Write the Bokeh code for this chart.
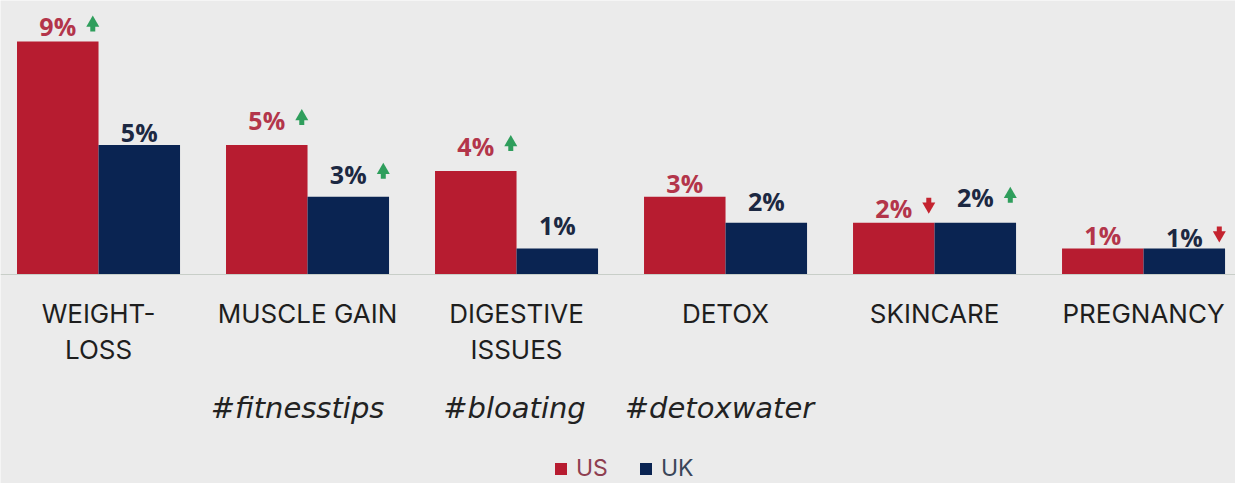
from bokeh.plotting import figure
from bokeh.models import Range1d, ColumnDataSource, Span, Legend, LegendItem
from bokeh.core.properties import value
from bokeh.embed import file_html
from bokeh.resources import INLINE

# ---- data ----
categories = ["WEIGHT-\nLOSS", "MUSCLE GAIN", "DIGESTIVE\nISSUES", "DETOX", "SKINCARE", "PREGNANCY"]
us_values = [9, 5, 4, 3, 2, 1]
uk_values = [5, 3, 1, 2, 2, 1]
us_trend = ["up", "up", "up", "", "down", ""]
uk_trend = ["", "up", "", "", "up", "down"]
hashtags = ["", "#fitnesstips", "#bloating", "#detoxwater", "", ""]

# ---- layout / style ----
W, H = 1235, 483
X0, X1 = -0.469, 5.440
Y0, Y1 = -8.07, 10.58
PX_X = (X1 - X0) / W
PX_Y = (Y1 - Y0) / H
BAR_W = 0.39
US_COLOR = "#b71c30"
UK_COLOR = "#0a2452"
US_TEXT = "#b3354a"
UK_TEXT = "#1c2842"
UP_COLOR = "#2f9e5c"
DOWN_COLOR = "#c4232f"
BG = "#ebebeb"
VAL_FS, CAT_FS, TAG_FS = 25, 26, 29
us_label_gap = [7, 17, 17, 6, 6, 5]
uk_label_gap = [5, 15, 15, 13, 17, 3]
tag_dx = [0, -10, -2, -6, 0, 0]


def fix(fs):
    # empirical correction of the rendered baseline
    return -0.33 * fs


idx = list(range(len(categories)))
us_x = [i - BAR_W / 2 for i in idx]
uk_x = [i + BAR_W / 2 for i in idx]

p = figure(width=W, height=H, x_range=Range1d(X0, X1), y_range=Range1d(Y0, Y1),
           output_backend="svg", toolbar_location=None, min_border=0,
           x_axis_location=None, y_axis_location=None,
           background_fill_color=BG, border_fill_color=BG, outline_line_color=None)
p.grid.visible = False

us_src = ColumnDataSource(dict(x=us_x, top=us_values, label=[f"{v}%" for v in us_values],
                               yoff=[-g + fix(VAL_FS) for g in us_label_gap]))
uk_src = ColumnDataSource(dict(x=uk_x, top=uk_values, label=[f"{v}%" for v in uk_values],
                               yoff=[-g + fix(VAL_FS) for g in uk_label_gap]))

us_r = p.vbar(x="x", top="top", bottom=0, width=BAR_W, source=us_src,
              fill_color=US_COLOR, line_color=None)
uk_r = p.vbar(x="x", top="top", bottom=0, width=BAR_W, source=uk_src,
              fill_color=UK_COLOR, line_color=None)

p.add_layout(Span(location=0, dimension="width", line_color="#c8cec8", line_width=1))

for src, col in ((us_src, US_TEXT), (uk_src, UK_TEXT)):
    p.text(x="x", y="top", text="label", y_offset="yoff", source=src,
           text_align="center", text_baseline="alphabetic",
           text_font=value("Open Sans"), text_font_style="bold",
           text_font_size=f"{VAL_FS}px", text_color=col)

# trend arrows
heads_up = dict(x=[], y=[])
heads_dn = dict(x=[], y=[])
shafts_up = dict(x=[], y=[])
shafts_dn = dict(x=[], y=[])
for xs, vals, gaps, trends in ((us_x, us_values, us_label_gap, us_trend),
                               (uk_x, uk_values, uk_label_gap, uk_trend)):
    for x, v, g, t in zip(xs, vals, gaps, trends):
        if not t:
            continue
        ax = x + 35 * PX_X
        top = v + (g + 19) * PX_Y
        if t == "up":
            heads_up["x"].append(ax); heads_up["y"].append(top - 7.5 * PX_Y)
            shafts_up["x"].append(ax); shafts_up["y"].append(top - 12.5 * PX_Y)
        else:
            bot = top - 16 * PX_Y
            heads_dn["x"].append(ax); heads_dn["y"].append(bot + 7.5 * PX_Y)
            shafts_dn["x"].append(ax); shafts_dn["y"].append(top - 3.5 * PX_Y)

p.scatter(x="x", y="y", source=ColumnDataSource(heads_up), marker="triangle", size=13,
          fill_color=UP_COLOR, line_color=None)
p.rect(x="x", y="y", source=ColumnDataSource(shafts_up), width=5, height=7,
       width_units="screen", height_units="screen", fill_color=UP_COLOR, line_color=None)
p.scatter(x="x", y="y", source=ColumnDataSource(heads_dn), marker="inverted_triangle", size=13,
          fill_color=DOWN_COLOR, line_color=None)
p.rect(x="x", y="y", source=ColumnDataSource(shafts_dn), width=5, height=7,
       width_units="screen", height_units="screen", fill_color=DOWN_COLOR, line_color=None)

# category labels (two lines)
line1 = [c.split("\n")[0] for c in categories]
line2 = [c.split("\n")[1] if "\n" in c else "" for c in categories]
for lines, off in ((line1, 48), (line2, 84)):
    p.text(x=idx, y=[0] * len(idx), text=lines, y_offset=off + fix(CAT_FS),
           text_align="center", text_baseline="alphabetic",
           text_font=value("Inter"), text_font_size=f"{CAT_FS}px", text_color="#1e1e1e")

# hashtags
p.text(x=idx, y=[0] * len(idx), text=hashtags, x_offset=tag_dx, y_offset=143 + fix(TAG_FS),
       text_align="center", text_baseline="alphabetic",
       text_font=value("DejaVu Sans"), text_font_style="italic",
       text_font_size=f"{TAG_FS}px", text_color="#222222")

# legend
for name, r, loc, col in (("US", us_r, (553, 1), "#8e3e50"), ("UK", uk_r, (638, 1), "#3b4659")):
    leg = Legend(items=[LegendItem(label=name, renderers=[r])], location=loc,
                 orientation="horizontal", background_fill_alpha=0, border_line_alpha=0,
                 padding=0, margin=0, glyph_width=15, glyph_height=15, label_standoff=8,
                 label_height=15, label_text_font="Inter", label_text_font_size="23px",
                 label_text_color=col, label_text_baseline="middle")
    p.add_layout(leg)

open("out.html", "w").write(file_html(p, INLINE))
